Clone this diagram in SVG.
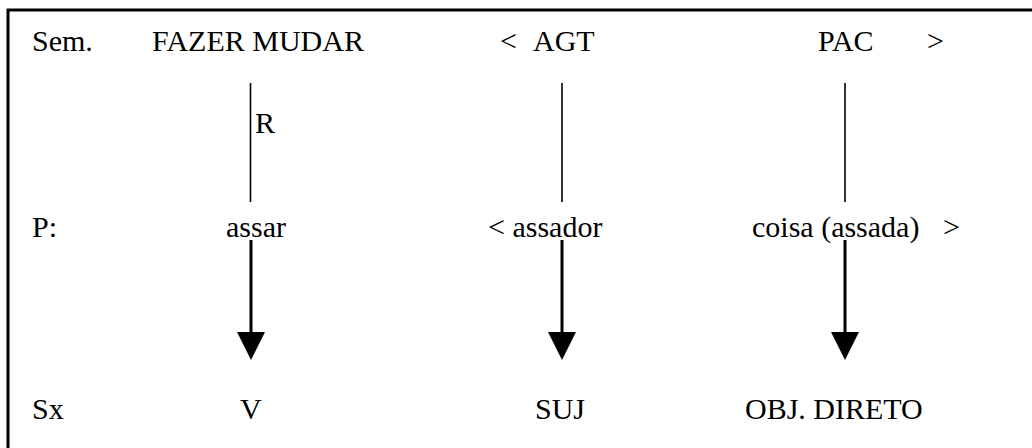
<svg xmlns="http://www.w3.org/2000/svg" width="1032" height="448" viewBox="0 0 1032 448" font-family="'Liberation Serif', 'Times New Roman', 'DejaVu Serif', serif">
<style>
text{font-family:'Liberation Serif', 'Times New Roman', 'DejaVu Serif', serif;font-size:30px;fill:#000}
.up{stroke:#000;stroke-width:1.6;fill:none}
.down{stroke:#000;stroke-width:3;fill:none}
.head{fill:#000}
</style>
<rect width="1032" height="448" fill="#fff"/>
<path d="M8,448 V10 H1032" fill="none" stroke="#000" stroke-width="3"/>
<g id="labels">
<text x="32" y="51">Sem.</text>
<text x="32" y="237">P:</text>
<text x="32" y="419">Sx</text>
</g>
<g id="sem-fazer-mudar"><text x="152" y="51">FAZER MUDAR</text></g>
<g id="sem-agt"><text x="500" y="51">&lt;</text><text x="533" y="51">AGT</text></g>
<g id="sem-pac"><text x="818" y="51">PAC</text><text x="927" y="51">&gt;</text></g>
<g id="p-assar"><text x="226" y="237">assar</text></g>
<g id="p-assador"><text x="488" y="237">&lt; assador</text></g>
<g id="p-coisa"><text x="752" y="237">coisa (assada)<tspan x="943">&gt;</tspan></text></g>
<g id="sx-v"><text x="240" y="419">V</text></g>
<g id="sx-suj"><text x="535" y="419">SUJ</text></g>
<g id="sx-obj"><text x="745" y="419">OBJ. DIRETO</text></g>
<g id="connectors">
<line class="up" x1="250.5" y1="83" x2="250.5" y2="202"/>
<text x="255" y="133">R</text>
<line class="up" x1="562" y1="83" x2="562" y2="202"/>
<line class="up" x1="845" y1="83" x2="845" y2="202"/>
<line class="down" x1="251" y1="240" x2="251" y2="334"/>
<polygon class="head" points="237,332 265,332 251,360"/>
<line class="down" x1="562" y1="240" x2="562" y2="334"/>
<polygon class="head" points="548,332 576,332 562,360"/>
<line class="down" x1="845" y1="240" x2="845" y2="334"/>
<polygon class="head" points="831,332 859,332 845,360"/>
</g>
</svg>
